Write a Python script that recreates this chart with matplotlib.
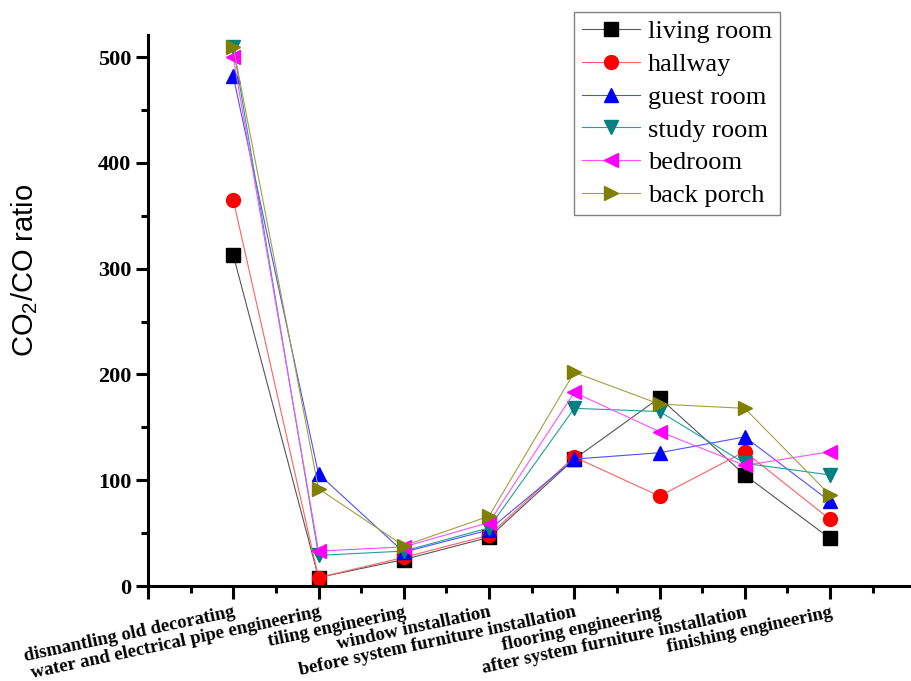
import matplotlib
matplotlib.use("Agg")
import matplotlib.pyplot as plt
from matplotlib.ticker import MultipleLocator

plt.rcParams["mathtext.fontset"] = "custom"
plt.rcParams["mathtext.rm"] = "Liberation Sans"
plt.rcParams["mathtext.it"] = "Liberation Sans:italic"

stages = [
    "dismantling old decorating",
    "water and electrical pipe engineering",
    "tiling engineering",
    "window installation",
    "before system furniture installation",
    "flooring engineering",
    "after system furniture installation",
    "finishing engineering",
]

living_room = [313, 8, 25, 46, 120, 178, 105, 45]
hallway = [365, 8, 27, 48, 122, 85, 127, 63]
guest_room = [482, 106, 32, 53, 120, 126, 141, 80]
study_room = [510, 29, 33, 55, 168, 165, 116, 105]
bedroom = [500, 33, 37, 60, 183, 146, 114, 127]
back_porch = [510, 92, 38, 66, 202, 172, 168, 86]

series = [
    ("living room", living_room, "s", "black", "#555555"),
    ("hallway", hallway, "o", "#ff0000", "#ff6060"),
    ("guest room", guest_room, "^", "#0000ff", "#5050ff"),
    ("study room", study_room, "v", "#008080", "#20a0a0"),
    ("bedroom", bedroom, "<", "#ff00ff", "#ff50ff"),
    ("back porch", back_porch, ">", "#808000", "#a0a040"),
]

x = list(range(1, len(stages) + 1))

fig = plt.figure(figsize=(9.11, 6.81), dpi=100)
ax = fig.add_axes([148 / 911, 1 - 586 / 681, 1 - 148 / 911, 551 / 681])

for name, vals, mk, col, lcol in series:
    ax.plot(x, vals, color=lcol, lw=0.8, marker=mk, markersize=10,
            markerfacecolor=col, markeredgecolor=col, label=name)

ax.set_xlim(0, 8.95)
ax.set_ylim(0, 521)
ax.set_xticks(range(0, 9))
ax.set_xticklabels([""] + stages, rotation=12, ha="right", va="top",
                   rotation_mode="anchor", family="Liberation Serif",
                   fontweight="bold", fontsize=13.5)
ax.xaxis.set_minor_locator(MultipleLocator(0.5))
ax.yaxis.set_major_locator(MultipleLocator(100))
ax.yaxis.set_minor_locator(MultipleLocator(50))
for lab in ax.get_yticklabels():
    lab.set_family("Liberation Serif")
    lab.set_fontweight("bold")
    lab.set_fontsize(16)

ax.tick_params(which="major", direction="out", length=9, width=2.2, pad=3)
ax.tick_params(which="minor", direction="out", length=5, width=2.2)
ax.tick_params(axis="x", which="major", pad=4)
for side in ("top", "right"):
    ax.spines[side].set_visible(False)
for side in ("left", "bottom"):
    ax.spines[side].set_linewidth(2.2)

ax.set_ylabel("CO$_2$/CO ratio", family="Liberation Sans", fontsize=21)
ax.yaxis.set_label_coords(-0.142, 0.573)

leg = ax.legend(loc="upper right", bbox_to_anchor=(780 / 911, 1 - 12 / 681),
                bbox_transform=fig.transFigure, borderaxespad=0,
                prop={"family": "Liberation Serif", "size": 19},
                fancybox=False, framealpha=1, edgecolor="#808080",
                handlelength=2.2, handletextpad=0.3, labelspacing=0.35,
                borderpad=0.3, markerscale=1.0)
leg.get_frame().set_linewidth(1.0)

fig.savefig("out.png", dpi=100, facecolor="white")
